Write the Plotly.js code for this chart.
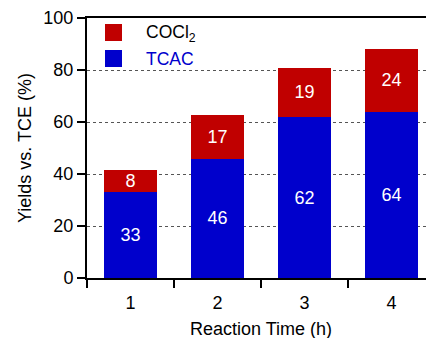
<!DOCTYPE html>
<html>
<head>
<meta charset="utf-8">
<script src="https://cdn.plot.ly/plotly-3.0.1.min.js"></script>
<style>html,body{margin:0;padding:0;background:#fff;}#chart{width:426px;height:338px;}</style>
</head>
<body>
<div id="chart"></div>
<script>
var categories = ['1', '2', '3', '4'];
var tcacValues = [33.1, 45.8, 61.9, 64.0];
var cocl2Values = [8.4, 16.9, 18.9, 24.1];
var tcacLabels = ['33', '46', '62', '64'];
var cocl2Labels = ['8', '17', '19', '24'];
var yTicks = [0, 20, 40, 60, 80, 100];

var FONT = 'Arial, "Liberation Sans", sans-serif';
var RED = '#c00000';
var BLUE = '#0000cc';

var traces = [
  {
    type: 'bar', name: 'TCAC', x: categories, y: tcacValues,
    text: tcacLabels, textposition: 'inside', insidetextanchor: 'middle',
    textangle: 0, constraintext: 'none',
    textfont: {family: FONT, size: 18, color: '#ffffff'},
    marker: {color: BLUE, line: {width: 0}}, width: 0.61, hoverinfo: 'none'
  },
  {
    type: 'bar', name: 'COCl2', x: categories, y: cocl2Values,
    text: cocl2Labels, textposition: 'inside', insidetextanchor: 'middle',
    textangle: 0, constraintext: 'none',
    textfont: {family: FONT, size: 18, color: '#ffffff'},
    marker: {color: RED, line: {width: 0}}, width: 0.61, hoverinfo: 'none'
  }
];

function px2x(px) { return (px - 87) / 339; }
function py2y(py) { return (278 - py) / 260; }

var layout = {
  width: 426, height: 338,
  margin: {l: 87, r: 0, t: 18, b: 60, pad: 0},
  paper_bgcolor: '#ffffff', plot_bgcolor: '#ffffff',
  barmode: 'stack',
  showlegend: false,
  font: {family: FONT, size: 17, color: '#000000'},
  xaxis: {
    type: 'category', range: [-0.5, 3.397],
    showline: true, linecolor: '#000000', linewidth: 2, mirror: true,
    ticks: 'outside', tickson: 'boundaries', ticklen: 8, tickwidth: 2, tickcolor: '#000000',
    ticklabelstandoff: 7,
    showgrid: false, zeroline: false,
    tickfont: {family: FONT, size: 18, color: '#000000'}
  },
  yaxis: {
    range: [0, 100], tickvals: yTicks, ticktext: yTicks.map(String),
    showline: true, linecolor: '#000000', linewidth: 2,
    ticks: 'outside', ticklen: 8, tickwidth: 2, tickcolor: '#000000',
    showgrid: true, gridcolor: '#555555', gridwidth: 1, griddash: 'dot',
    zeroline: false,
    tickfont: {family: FONT, size: 18, color: '#000000'}
  },
  shapes: [
    {type: 'rect', xref: 'paper', yref: 'paper', x0: px2x(105), x1: px2x(122), y0: py2y(41), y1: py2y(24), fillcolor: RED, line: {width: 0}},
    {type: 'rect', xref: 'paper', yref: 'paper', x0: px2x(105), x1: px2x(122), y0: py2y(67), y1: py2y(50), fillcolor: BLUE, line: {width: 0}}
  ],
  annotations: [
    {xref: 'paper', yref: 'paper', x: px2x(144), y: py2y(33), xanchor: 'left', yanchor: 'middle', showarrow: false,
     text: 'COCl<sub>2</sub>', font: {family: FONT, size: 17.5, color: '#000000'}},
    {xref: 'paper', yref: 'paper', x: px2x(144), y: py2y(59), xanchor: 'left', yanchor: 'middle', showarrow: false,
     text: 'TCAC', font: {family: FONT, size: 17.5, color: BLUE}},
    {xref: 'paper', yref: 'paper', x: px2x(261), y: py2y(329), xanchor: 'center', yanchor: 'middle', showarrow: false,
     text: 'Reaction Time (h)', font: {family: FONT, size: 18, color: '#000000'}},
    {xref: 'paper', yref: 'paper', x: px2x(25), y: py2y(148), xanchor: 'center', yanchor: 'middle', showarrow: false,
     textangle: -90, text: 'Yields vs. TCE (%)', font: {family: FONT, size: 18, color: '#000000'}}
  ]
};

Plotly.newPlot('chart', traces, layout, {staticPlot: true, displayModeBar: false});
</script>
</body>
</html>
